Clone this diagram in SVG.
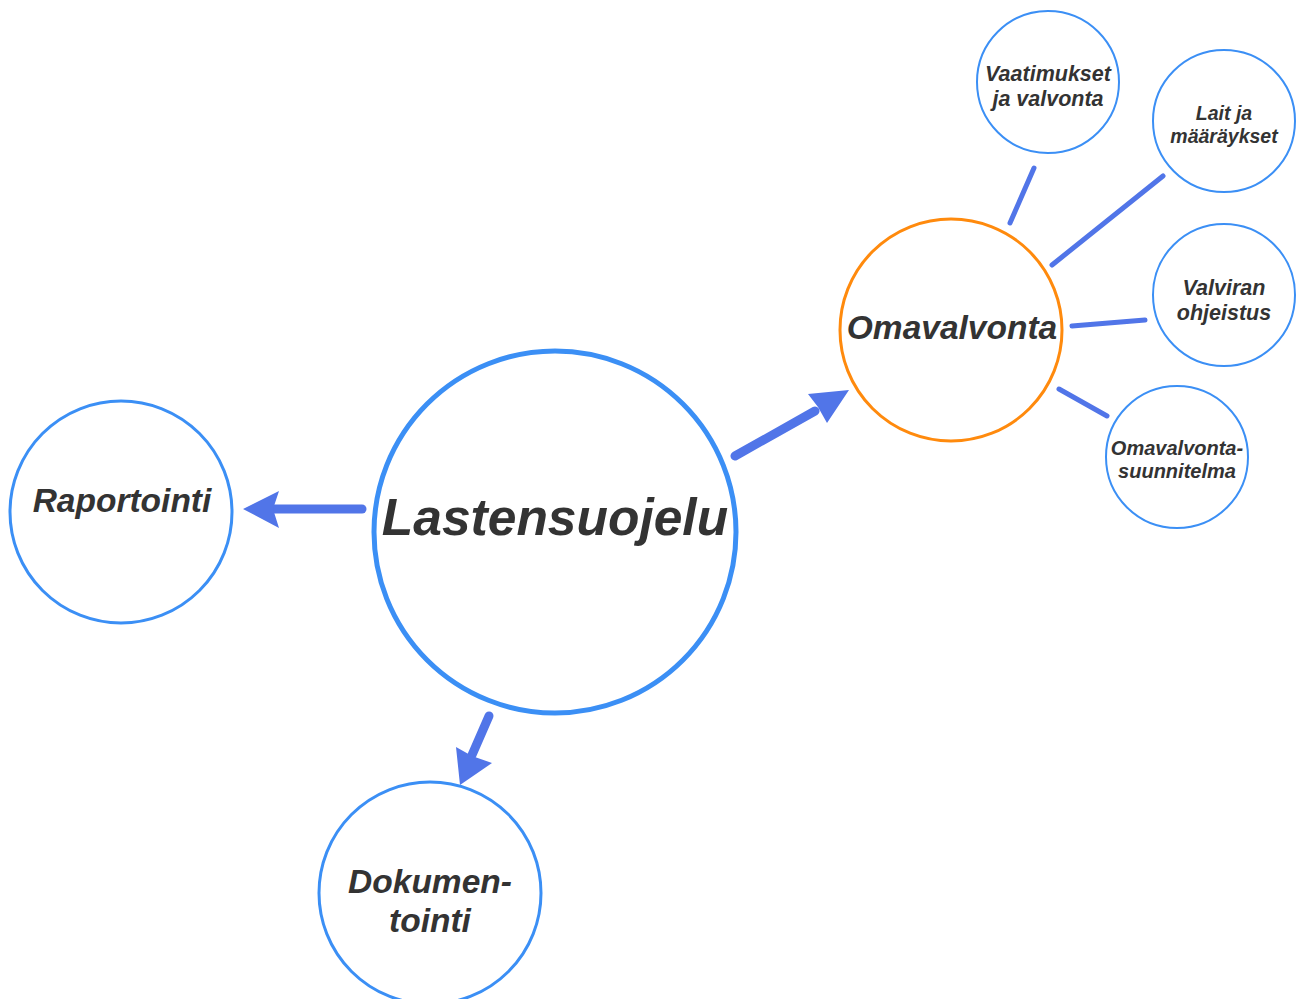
<svg xmlns="http://www.w3.org/2000/svg" width="1298" height="999" viewBox="0 0 1298 999">
<style>
.c{fill:#fff;stroke:#3b8ff5}
.t{font-family:"Liberation Sans",Arial,sans-serif;font-weight:bold;font-style:italic;fill:#333;text-anchor:middle}
.ln{stroke:#5175e8;stroke-linecap:round;fill:none}
.ah{fill:#5175e8}
</style>
<rect width="1298" height="999" fill="#fff"/>
<g id="connectors">
<line class="ln" x1="735" y1="456" x2="815" y2="411" stroke-width="9"/>
<path class="ah" d="M849,390 L808,394 L818,407 L827,423 Z"/>
<line class="ln" x1="362" y1="509" x2="272" y2="509" stroke-width="9"/>
<path class="ah" d="M243,509 L279,491 L273,509 L279,528 Z"/>
<line class="ln" x1="489" y1="716" x2="472" y2="755" stroke-width="9"/>
<path class="ah" d="M460,785 L456,747 L472,756 L492,763 Z"/>
<line class="ln" x1="1010" y1="223" x2="1034" y2="168" stroke-width="5"/>
<line class="ln" x1="1052" y1="265" x2="1163" y2="176" stroke-width="5"/>
<line class="ln" x1="1072" y1="326" x2="1145" y2="320" stroke-width="5"/>
<line class="ln" x1="1059" y1="389" x2="1107" y2="416" stroke-width="5"/>
</g>
<g id="lastensuojelu">
<circle class="c" cx="555" cy="532" r="181" stroke-width="5"/>
<text class="t" x="555" y="535" font-size="51.5">Lastensuojelu</text>
</g>
<g id="raportointi">
<circle class="c" cx="121" cy="512" r="111" stroke-width="3"/>
<text class="t" x="122" y="512" font-size="33.5">Raportointi</text>
</g>
<g id="dokumentointi">
<circle class="c" cx="430" cy="893" r="111" stroke-width="3"/>
<text class="t" x="430" y="893" font-size="33.5">Dokumen-</text>
<text class="t" x="430" y="932" font-size="33.5">tointi</text>
</g>
<g id="omavalvonta">
<circle cx="951" cy="330" r="111" fill="#fff" stroke="#ff8a0d" stroke-width="3"/>
<text class="t" x="952" y="339" font-size="33.5">Omavalvonta</text>
</g>
<g id="vaatimukset">
<circle class="c" cx="1048" cy="82" r="71" stroke-width="2"/>
<text class="t" x="1048" y="81" font-size="21.5">Vaatimukset</text>
<text class="t" x="1048" y="106" font-size="21.5">ja valvonta</text>
</g>
<g id="lait">
<circle class="c" cx="1224" cy="121" r="71" stroke-width="2"/>
<text class="t" x="1224" y="120" font-size="19.5">Lait ja</text>
<text class="t" x="1224" y="143" font-size="19.5">määräykset</text>
</g>
<g id="valviran">
<circle class="c" cx="1224" cy="295" r="71" stroke-width="2"/>
<text class="t" x="1224" y="295" font-size="21.5">Valviran</text>
<text class="t" x="1224" y="320" font-size="21.5">ohjeistus</text>
</g>
<g id="suunnitelma">
<circle class="c" cx="1177" cy="457" r="71" stroke-width="2"/>
<text class="t" x="1177" y="455" font-size="20">Omavalvonta-</text>
<text class="t" x="1177" y="478" font-size="20">suunnitelma</text>
</g>
</svg>
